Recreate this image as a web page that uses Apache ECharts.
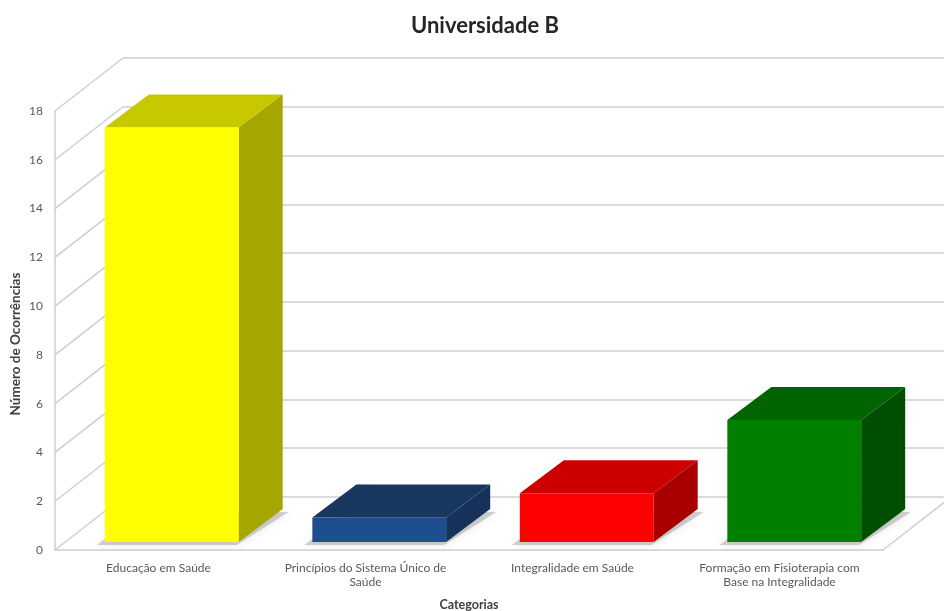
<!DOCTYPE html>
<html><head><meta charset="utf-8">
<script src="https://cdn.jsdelivr.net/npm/echarts@6/dist/echarts.min.js"></script>
<style>html,body{margin:0;padding:0;background:#fff}#c{width:944px;height:611px}</style>
</head><body><div id="c"></div>
<script>
const title = 'Universidade B';
const categories = ['Educação em Saúde', 'Princípios do Sistema Único de\nSaúde', 'Integralidade em Saúde', 'Formação em Fisioterapia com\nBase na Integralidade'];
const values = [17, 1, 2, 5];
const yTicks = [0, 2, 4, 6, 8, 10, 12, 14, 16, 18];
const xName = 'Categorias';
const yName = 'Número de Ocorrências';

const faceColors = ['#FFFF00', '#1F4E8F', '#FF0000', '#008000'];
const topColors = ['#C8C800', '#17375E', '#CC0000', '#006400'];
const sideColors = ['#A6A600', '#16325A', '#A80000', '#004E00'];

const DX = 68, DY = -53;   // wall depth offset
const BDX = 44, BDY = -33; // bar depth offset
const gridColor = '#CFCFCF';
const FONT = 'Lato';

const chart = echarts.init(document.getElementById('c'), null, {renderer: 'canvas'});

const option = {
  animation: false,
  backgroundColor: '#fff',
  title: {
    text: title, left: 480, top: 10, textAlign: 'center',
    textStyle: {fontFamily: FONT, fontWeight: 'bold', fontSize: 22, color: '#262626'}
  },
  grid: [
    {left: 55, right: 61, top: 111, bottom: 61, containLabel: false, outerBoundsMode: 'none'},   // front plane
    {left: 123, right: 0, top: 58, bottom: 114, containLabel: false, outerBoundsMode: 'none'},   // back wall
    {left: 68, right: 46, top: 103, bottom: 69, containLabel: false, outerBoundsMode: 'none'}    // bar plane
  ],
  xAxis: [
    {type: 'category', gridIndex: 0, data: categories,
     axisLine: {show: true, lineStyle: {color: gridColor, width: 1.5}},
     axisTick: {show: false},
     axisLabel: {fontFamily: FONT, fontSize: 12, color: '#595959', margin: 11, lineHeight: 14, interval: 0},
     name: xName, nameLocation: 'middle', nameGap: 48,
     nameTextStyle: {fontFamily: FONT, fontSize: 12.5, fontWeight: 'bold', color: '#404040'}},
    {type: 'category', gridIndex: 1, data: categories, show: false},
    {type: 'category', gridIndex: 2, data: categories, show: false}
  ],
  yAxis: [
    {type: 'value', gridIndex: 0, min: 0, max: 18, interval: 2,
     axisLine: {show: true, lineStyle: {color: gridColor, width: 1.5}},
     axisTick: {show: false}, splitLine: {show: false},
     axisLabel: {fontFamily: FONT, fontSize: 12, color: '#595959', margin: 12}},
    {type: 'value', gridIndex: 1, min: 0, max: 18, interval: 2,
     axisLine: {show: false}, axisTick: {show: false}, axisLabel: {show: false},
     splitLine: {show: true, lineStyle: {color: gridColor, width: 1.5}}},
    {type: 'value', gridIndex: 2, min: 0, max: 18, interval: 2, show: false,
     splitLine: {show: false}}
  ],
  graphic: [{
    type: 'text', rotation: Math.PI / 2,
    x: 16, y: 344,
    style: {text: yName, fontFamily: FONT, fontSize: 13.5, fontWeight: 'bold', fill: '#404040',
            textAlign: 'center', textVerticalAlign: 'middle'}
  }],
  series: [
    { // side wall diagonals + floor edges
      type: 'custom', xAxisIndex: 0, yAxisIndex: 0, z: 1, silent: true,
      data: yTicks.map(v => [0, v]),
      encode: {x: 0, y: 1},
      renderItem: function (params, api) {
        const cs = params.coordSys;
        const v = api.value(1);
        const y = api.coord([0, v])[1];
        const children = [{
          type: 'line',
          shape: {x1: cs.x, y1: y, x2: cs.x + DX, y2: y + DY},
          style: {stroke: gridColor, lineWidth: 1.5}
        }];
        if (v === 0) {
          const xr = cs.x + cs.width;
          children.push({
            type: 'line',
            shape: {x1: xr, y1: y, x2: xr + DX, y2: y + DY},
            style: {stroke: gridColor, lineWidth: 1.5}
          });
        }
        return {type: 'group', children};
      }
    },
    { // 3D bars
      type: 'custom', xAxisIndex: 2, yAxisIndex: 2, z: 5, silent: true,
      data: values.map((v, i) => [i, v]),
      encode: {x: 0, y: 1},
      renderItem: function (params, api) {
        const i = api.value(0);
        const v = api.value(1);
        const base = api.coord([i, 0]);
        const top = api.coord([i, v]);
        const w = api.size([1, 0])[0] * 0.645;
        const x0 = base[0] - w / 2, x1 = base[0] + w / 2;
        const yb = base[1], yt = top[1];
        return {
          type: 'group',
          children: [
            {type: 'polygon',
             shape: {points: [[x0 - 8, yb + 3], [x1 - 2, yb + 3], [x1 + BDX + 6, yb + BDY + 3], [x0 + BDX - 8, yb + BDY + 3]]},
             style: {fill: 'rgba(110,110,110,0.3)', shadowBlur: 8, shadowColor: 'rgba(80,80,80,0.45)'}},
            {type: 'polygon',
             shape: {points: [[x1, yt], [x1 + BDX, yt + BDY], [x1 + BDX, yb + BDY], [x1, yb]]},
             style: {fill: sideColors[i]}},
            {type: 'polygon',
             shape: {points: [[x0, yt], [x1, yt], [x1 + BDX, yt + BDY], [x0 + BDX, yt + BDY]]},
             style: {fill: topColors[i]}},
            {type: 'rect',
             shape: {x: x0, y: yt, width: w, height: yb - yt},
             style: {fill: faceColors[i]}}
          ]
        };
      }
    }
  ]
};
chart.setOption(option);
</script>
</body></html>
